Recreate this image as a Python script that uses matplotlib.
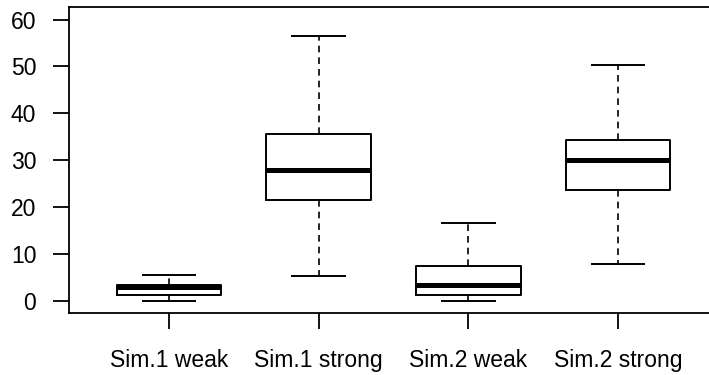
import matplotlib
matplotlib.use("Agg")
import matplotlib.pyplot as plt

plt.rcParams['font.family'] = ['Liberation Sans', 'DejaVu Sans']

labels = ["Sim.1 weak", "Sim.1 strong", "Sim.2 weak", "Sim.2 strong"]
whislo = [0.0, 5.3, 0.0, 8.0]
q1 = [1.3, 21.6, 1.3, 23.7]
med = [2.9, 28.0, 3.4, 30.1]
q3 = [3.5, 35.5, 7.4, 34.4]
whishi = [5.5, 56.4, 16.7, 50.4]

stats = []
for i in range(len(labels)):
    stats.append(dict(label=labels[i], whislo=whislo[i], q1=q1[i], med=med[i],
                      q3=q3[i], whishi=whishi[i], fliers=[]))

fig = plt.figure(figsize=(7.09, 3.75), dpi=100)
ax = fig.add_axes([69 / 709, 61.7 / 375, 649 / 709, 306 / 375])

ax.bxp(stats, positions=[1, 2, 3, 4], widths=0.7, showfliers=False,
       boxprops=dict(color="black", linewidth=1.4),
       medianprops=dict(color="black", linewidth=3.6, solid_capstyle="butt"),
       whiskerprops=dict(color="black", linewidth=1.2, linestyle=(0, (4, 3))),
       capprops=dict(color="black", linewidth=1.4),
       capwidths=0.35)

ax.set_xlim(1 - 100 / 149.7, 4 + 100 / 149.7)
ax.set_ylim(-2.6, 62.6)
ax.set_yticks([0, 10, 20, 30, 40, 50, 60])
ax.set_xticks([1, 2, 3, 4])
ax.set_xticklabels(labels)

for s in ax.spines.values():
    s.set_linewidth(1.3)

ax.tick_params(axis="y", length=11.5, width=1.3, pad=12, labelsize=16.5)
ax.tick_params(axis="x", length=11.5, width=1.3, pad=14, labelsize=16.5)

fig.savefig("out.png", dpi=100)
